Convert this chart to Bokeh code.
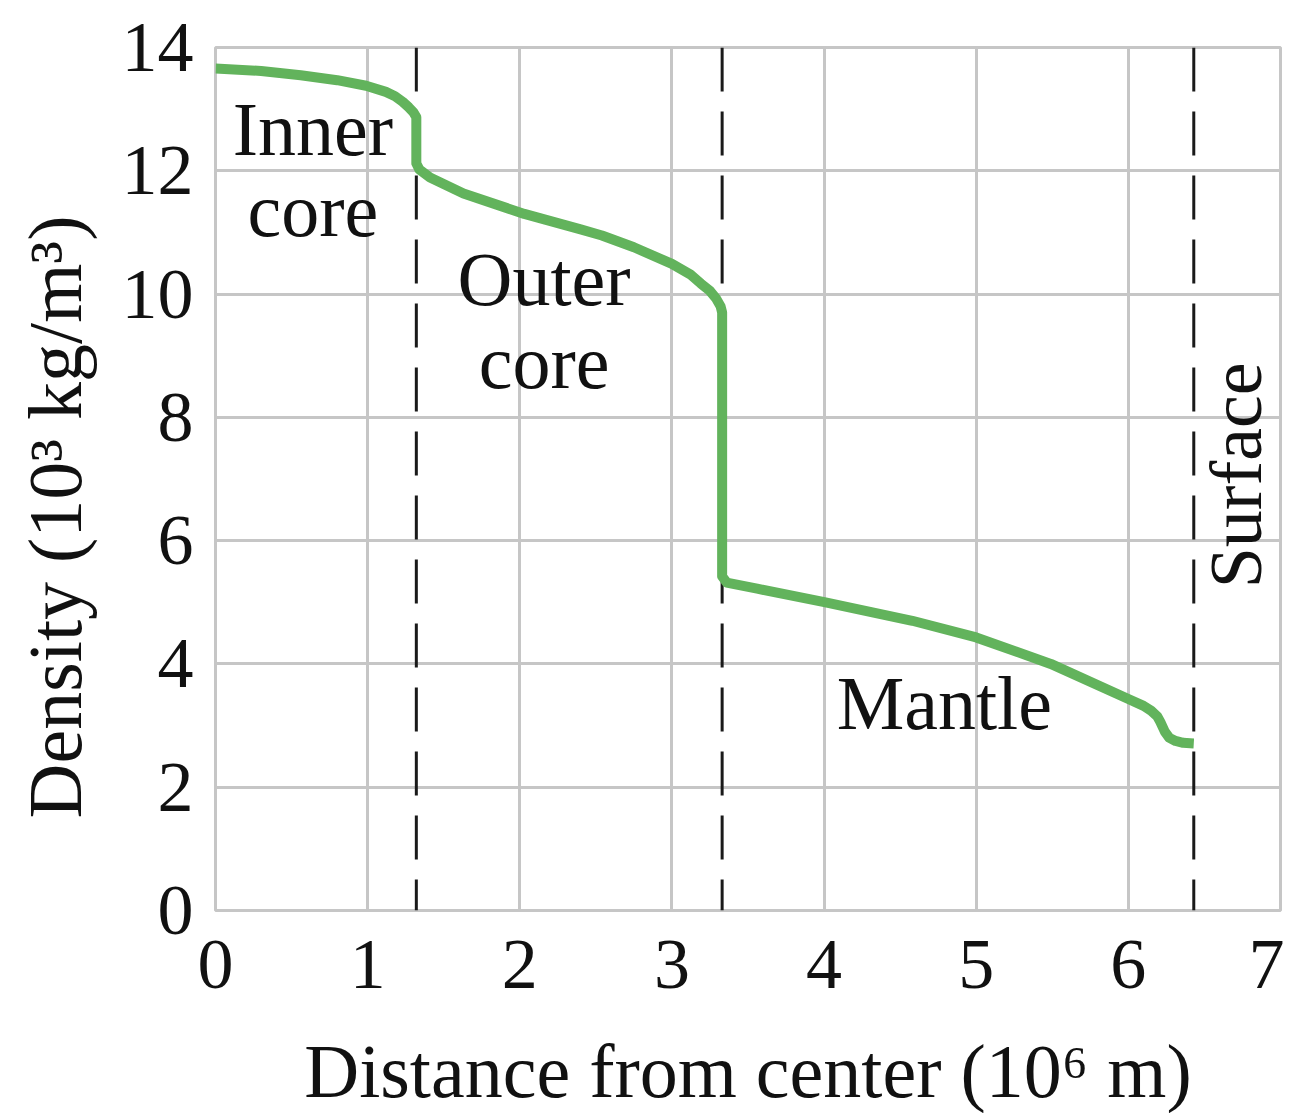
from bokeh.plotting import figure
from bokeh.models import Range1d, FixedTicker
from bokeh.core.properties import value
from bokeh.embed import file_html
from bokeh.resources import INLINE

# ---- data ----
radius = [0.00, 0.30, 0.56, 0.80, 0.99, 1.12, 1.18, 1.23, 1.27, 1.30, 1.32, 1.32, 1.34,
          1.41, 1.63, 2.03, 2.40, 2.54, 2.75, 3.00, 3.12, 3.19, 3.25, 3.29, 3.32, 3.33, 3.33,
          3.36, 3.56, 4.01, 4.58, 5.00, 5.49, 6.00, 6.10, 6.15, 6.19, 6.21, 6.24, 6.27, 6.31, 6.36, 6.43]
density = [13.66, 13.62, 13.55, 13.47, 13.38, 13.28, 13.21, 13.12, 13.03, 12.95, 12.87, 12.12, 12.02,
           11.89, 11.63, 11.30, 11.05, 10.95, 10.76, 10.49, 10.32, 10.17, 10.05, 9.93, 9.80, 9.70, 5.42,
           5.32, 5.22, 5.00, 4.70, 4.43, 4.00, 3.43, 3.32, 3.24, 3.15, 3.06, 2.90, 2.80, 2.75, 2.72, 2.71]

boundaries = [1.32, 3.33, 6.43]          # inner core / outer core / surface

x_ticks = [0, 1, 2, 3, 4, 5, 6, 7]
y_ticks = [0, 2, 4, 6, 8, 10, 12, 14]

region_labels = ["Inner", "core", "Outer", "core", "Mantle"]
region_x = [0.64, 0.64, 2.16, 2.16, 4.79]
region_y = [12.67, 11.37, 10.24, 8.89, 3.37]

surface_label = "Surface"
surface_x = 6.71
surface_y = 7.06

FONT = "Liberation Serif"
GRID = "#c6c6c6"
NBSP = "\u00a0"

p = figure(frame_width=1065, frame_height=863,
           x_range=Range1d(0, 7), y_range=Range1d(0, 14),
           output_backend="svg", toolbar_location=None,
           min_border_left=215, min_border_top=47, min_border_right=4,
           min_border_bottom=10)

p.background_fill_color = "white"
p.border_fill_color = "white"
p.outline_line_color = GRID
p.outline_line_width = 3

for ax in (p.xaxis, p.yaxis):
    ax.axis_line_color = None
    ax.major_tick_line_color = None
    ax.minor_tick_line_color = None
    ax.major_tick_out = 0
    ax.major_tick_in = 0
    ax.major_label_text_font = FONT
    ax.major_label_text_font_size = "72px"
    ax.major_label_text_color = "#111111"
    ax.axis_label_text_font = FONT
    ax.axis_label_text_font_size = "76px"
    ax.axis_label_text_font_style = "normal"
    ax.axis_label_text_color = "#111111"

p.xaxis.ticker = FixedTicker(ticks=x_ticks)
p.yaxis.ticker = FixedTicker(ticks=y_ticks)
p.xaxis.axis_label = "Distance from center (10\u2076 m)"
p.yaxis.axis_label = "Density (10\u00b3 kg/m\u00b3)" + NBSP * 4
p.xaxis.major_label_standoff = 30
p.xaxis.axis_label_standoff = 38
p.yaxis.major_label_standoff = 22
p.yaxis.axis_label_standoff = 22

for g in (p.xgrid, p.ygrid):
    g.grid_line_color = GRID
    g.grid_line_width = 3
p.xgrid.ticker = FixedTicker(ticks=x_ticks)
p.ygrid.ticker = FixedTicker(ticks=y_ticks)

# dashed region boundaries
p.segment(x0=boundaries, y0=[y_ticks[-1]] * len(boundaries),
          x1=boundaries, y1=[y_ticks[0]] * len(boundaries),
          line_color="#1a1a1a", line_width=3, line_dash="44 20")

# density curve
p.line(radius, density, line_color="#62B35C", line_width=10,
       line_join="round", line_cap="butt")

# region labels
p.text(x=region_x, y=region_y, text=region_labels,
       text_font=value(FONT), text_font_size="76px", text_color="#111111",
       text_align="center", text_baseline="alphabetic")

p.text(x=[surface_x], y=[surface_y], text=[surface_label], angle=1.5707963,
       text_font=value(FONT), text_font_size="74px", text_color="#111111",
       text_align="center", text_baseline="alphabetic")

open("out.html", "w").write(file_html(p, INLINE))
